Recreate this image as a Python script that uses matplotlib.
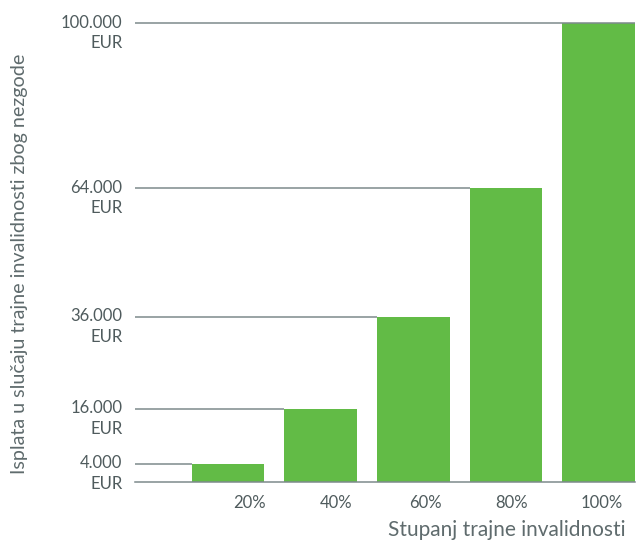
import matplotlib.pyplot as plt
import matplotlib.transforms as mtransforms
import numpy as np

# data
categories = ['20%', '40%', '60%', '80%', '100%']
values = [4000, 16000, 36000, 64000, 100000]
value_labels = ['4.000\nEUR', '16.000\nEUR', '36.000\nEUR', '64.000\nEUR', '100.000\nEUR']

green = '#62bb46'
text_col = '#4f5b5d'
line_col = '#7d8a8c'

plt.rcParams['font.family'] = ['Lato', 'DejaVu Sans']

fig = plt.figure(figsize=(6.36, 5.43), dpi=100)
ax = fig.add_axes([0.212, 0.1123, 0.786, 0.8453])

x = np.arange(len(categories))
width = 0.785
ax.bar(x, values, width=width, color=green, zorder=2)
ax.set_xlim(-1.005, 4.39)
ax.set_ylim(0, 100000)

# reference lines from the axis to the left edge of each bar
for i, v in enumerate(values):
    x_end = ax.get_xlim()[1] if i == len(values) - 1 else x[i] - width / 2
    ax.hlines(v, ax.get_xlim()[0], x_end, color=line_col, lw=1.1, zorder=3, clip_on=False)

# value labels
trans = mtransforms.blended_transform_factory(ax.transAxes, ax.transData)
trans = mtransforms.offset_copy(trans, fig=fig, x=-9, y=6, units='points')
for v, lab in zip(values, value_labels):
    ax.text(0, v, lab, transform=trans, ha='right', va='top', fontsize=12,
            color=text_col, linespacing=1.35)

# category labels sit a bit right of the bar centres
label_pos = [0.23, 1.17, 2.13, 3.06, 4.03]
ax.set_xticks(label_pos)
ax.set_xticklabels(categories, fontsize=12, color=text_col)
ax.tick_params(axis='x', length=0, pad=9)
ax.set_yticks([])

for s in ['top', 'right', 'left']:
    ax.spines[s].set_visible(False)
ax.spines['bottom'].set_color(line_col)
ax.spines['bottom'].set_linewidth(1.1)

fig.text(0.983, 0.006, 'Stupanj trajne invalidnosti', ha='right', va='bottom',
         fontsize=15, color='#5f6b6d')
fig.text(0.030, 0.515, 'Isplata u slučaju trajne invalidnosti zbog nezgode', rotation=90,
         ha='center', va='center', fontsize=14.2, color='#5f6b6d')

fig.savefig('out.png', dpi=100)
